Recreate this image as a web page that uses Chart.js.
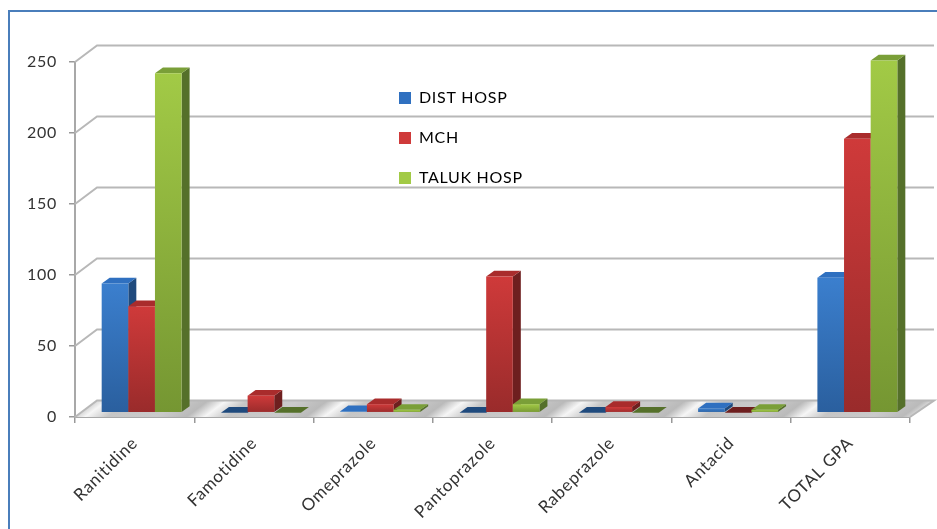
<!DOCTYPE html>
<html lang="en">
<head>
<meta charset="UTF-8">
<title>Acid suppressant use by hospital</title>
<script src="https://cdn.jsdelivr.net/npm/chart.js"></script>
<style>
  html, body { margin: 0; padding: 0; background: #fff; overflow: hidden; }
  #wrap { position: relative; width: 937px; height: 529px; overflow: hidden; }
  #frame { position: absolute; left: 8px; top: 10px; width: 960px; height: 560px; border: 2px solid #4a7ebb; }
  canvas { position: absolute; left: 0; top: 0; }
</style>
</head>
<body>
<div id="wrap">
  <div id="frame"></div>
  <canvas id="myChart" width="937" height="529"></canvas>
</div>
<script>
  const categories = ['Ranitidine', 'Famotidine', 'Omeprazole', 'Pantoprazole', 'Rabeprazole', 'Antacid', 'TOTAL GPA'];
  const distHosp = [91, 0, 1, 0, 0, 3, 95];
  const mch = [75, 12, 6, 96, 4, 0, 193];
  const talukHosp = [239, 0, 2, 6, 0, 2, 248];

  // [gradient top, gradient bottom, bar top, bar side]
  const blueShades = ['#3b7fce', '#2a5f9e', '#2f70c0', '#1f4a7d'];
  const redShades = ['#cf3a3a', '#992b2b', '#a92c2c', '#6e1f1f'];
  const greenShades = ['#a2ca46', '#759632', '#7a9f38', '#55702a'];

  // 3d look
  const wallDx = 22, wallDy = -16.5;
  const barDx = 7, barDy = -4.3;
  const depthDx = 8, depthDy = -5.7;

  function frontGradient(c, shades) {
    if (c.type !== 'data') return shades[0];
    const yScale = c.chart.scales.y;
    const g = c.chart.ctx.createLinearGradient(0, yScale.getPixelForValue(c.raw), 0, yScale.getPixelForValue(0));
    g.addColorStop(0, shades[0]);
    g.addColorStop(1, shades[1]);
    return g;
  }

  function poly(ctx, pts, fill) {
    ctx.beginPath();
    pts.forEach((p, i) => i ? ctx.lineTo(p[0], p[1]) : ctx.moveTo(p[0], p[1]));
    ctx.closePath();
    ctx.fillStyle = fill;
    ctx.fill();
  }

  const shadesByDataset = [blueShades, redShades, greenShades];

  const walls3d = {
    id: 'walls3d',
    afterLayout(chart) {
      // move the legend into the middle of the plot
      const lg = chart.legend;
      lg.left = 375; lg.right = 600; lg.top = 66; lg.bottom = 520;
    },
    beforeDraw(chart) {
      chart.ctx.letterSpacing = '0.7px';
    },
    beforeDatasetsDraw(chart) {
      const ctx = chart.ctx, a = chart.chartArea, yScale = chart.scales.y;
      const step = (a.right - a.left) / categories.length;
      ctx.save();

      // floor with the silver bands
      const y0 = a.bottom, k = -wallDx / wallDy;
      ctx.save();
      ctx.beginPath();
      ctx.moveTo(a.left, y0);
      ctx.lineTo(a.right, y0);
      ctx.lineTo(a.right + wallDx + 2, y0 + wallDy);
      ctx.lineTo(a.left + wallDx, y0 + wallDy);
      ctx.closePath();
      ctx.clip();
      ctx.transform(1, 0, -k, 1, k * y0, 0);
      const band = ctx.createLinearGradient(a.left - step, 0, a.right + step, 0);
      const total = (a.right - a.left) + 2 * step;
      for (let i = 0; i <= categories.length + 1; i++) {
        const bx = a.left - step + i * step;
        const stop = v => Math.min(1, Math.max(0, (bx + v - (a.left - step)) / total));
        band.addColorStop(stop(-38), '#cacaca');
        band.addColorStop(stop(-8), '#bababa');
        band.addColorStop(stop(10), '#f6f6f6');
        band.addColorStop(stop(32), '#c6c6c6');
      }
      ctx.fillStyle = band;
      ctx.fillRect(a.left - 100, y0 + wallDy - 2, a.right - a.left + 200, -wallDy + 4);
      ctx.restore();

      // back wall lines and the diagonals to the axis
      ctx.strokeStyle = '#b8b8b8';
      ctx.lineWidth = 2;
      yScale.ticks.forEach(t => {
        const y = yScale.getPixelForValue(t.value);
        ctx.beginPath();
        ctx.moveTo(a.left, y);
        ctx.lineTo(a.left + wallDx, y + wallDy);
        ctx.lineTo(a.right + wallDx + 2, y + wallDy);
        if (t.value === 0) ctx.lineTo(a.right, y);
        ctx.stroke();
      });
      ctx.restore();

      // left bars first, each one hides the side of the one before it
      chart.data.datasets.forEach((ds, n) => {
        const meta = chart.getDatasetMeta(n), shades = shadesByDataset[n];
        ctx.save();
        ctx.translate(barDx, barDy);
        meta.data.forEach((bar, i) => {
          const l = bar.x - bar.width / 2, r = bar.x + bar.width / 2;
          const t = bar.y, b = bar.base;
          poly(ctx, [[r, t], [r + depthDx, t + depthDy], [r + depthDx, b + depthDy], [r, b]], shades[3]);
          poly(ctx, [[l, t], [l + depthDx, t + depthDy], [r + depthDx, t + depthDy], [r, t]], ds.data[i] === 0 ? shades[3] : shades[2]);
        });
        meta.controller.draw();
        ctx.restore();
      });
    },
    beforeDatasetDraw() {
      return false; // already drawn above
    }
  };

  new Chart(document.getElementById('myChart'), {
    type: 'bar',
    data: {
      labels: categories,
      datasets: [
        { label: 'DIST HOSP', data: distHosp, backgroundColor: c => frontGradient(c, blueShades) },
        { label: 'MCH', data: mch, backgroundColor: c => frontGradient(c, redShades) },
        { label: 'TALUK HOSP', data: talukHosp, backgroundColor: c => frontGradient(c, greenShades) }
      ]
    },
    options: {
      responsive: false,
      animation: false,
      layout: { autoPadding: false, padding: { left: 0, top: 62, right: 27, bottom: 0 } },
      datasets: { bar: { categoryPercentage: 0.67, barPercentage: 1 } },
      plugins: {
        tooltip: { enabled: false },
        legend: {
          position: 'chartArea',
          align: 'start',
          labels: {
            boxWidth: 12,
            boxHeight: 12,
            padding: 24,
            color: '#333',
            font: { family: 'Lato', size: 16 },
            generateLabels: () => [
              { text: 'DIST HOSP', fillStyle: blueShades[2], strokeStyle: blueShades[2], lineWidth: 0 },
              { text: 'MCH', fillStyle: redShades[0], strokeStyle: redShades[0], lineWidth: 0 },
              { text: 'TALUK HOSP', fillStyle: greenShades[0], strokeStyle: greenShades[0], lineWidth: 0 }
            ]
          }
        }
      },
      scales: {
        x: {
          afterFit: s => { s.height = 112; },
          grid: { drawOnChartArea: false, tickLength: 6, color: '#999', lineWidth: 1.5 },
          border: { color: '#a8a8a8', width: 2 },
          ticks: { minRotation: 45, maxRotation: 45, padding: 10, color: '#333', font: { family: 'Lato', size: 17 } }
        },
        y: {
          min: 0,
          max: 250,
          afterFit: s => { s.width = 75; },
          grid: { drawOnChartArea: false, tickLength: 6, color: '#999', lineWidth: 1.5 },
          border: { color: '#a8a8a8', width: 2 },
          ticks: { stepSize: 50, padding: 12, color: '#333', font: { family: 'Lato', size: 16 } }
        }
      }
    },
    plugins: [walls3d]
  });
</script>
</body>
</html>
